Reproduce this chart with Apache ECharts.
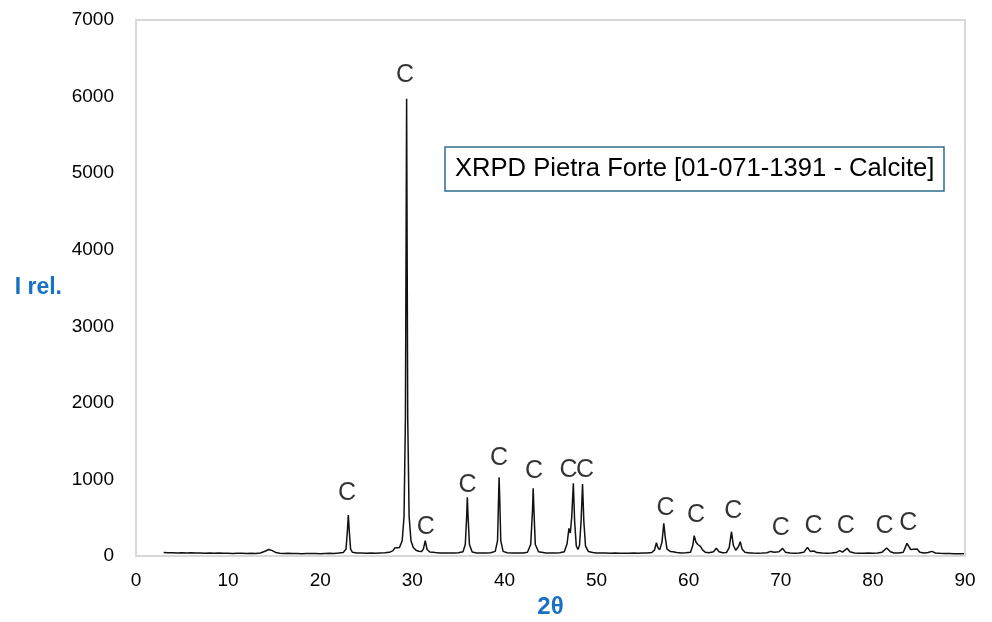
<!DOCTYPE html>
<html>
<head>
<meta charset="utf-8">
<script src="https://cdn.jsdelivr.net/npm/echarts@6/dist/echarts.min.js"></script>
<style>
  html, body { margin: 0; padding: 0; background: #fff; }
  #chart { width: 992px; height: 622px; }
</style>
</head>
<body>
<div id="chart"></div>
<script>
// pattern (2θ, counts)
const twoTheta = [
  3.0, 3.5, 4.0, 4.5, 5.0, 5.5, 6.0, 6.5, 7.0, 7.5,
  8.0, 8.5, 9.0, 9.5, 10.0, 10.5, 11.0, 11.5, 12.0, 12.5,
  13.0, 13.5, 14.0, 14.4, 14.8, 15.2, 15.6, 16.0, 16.5, 17.0,
  17.5, 18.0, 18.5, 19.0, 19.5, 20.0, 20.5, 21.0, 21.5, 22.0,
  22.5, 22.8, 22.95, 23.05, 23.15, 23.3, 23.5, 24.0, 24.5, 25.0,
  25.5, 26.0, 26.5, 27.0, 27.5, 27.9, 28.1, 28.3, 28.6, 28.9,
  29.1, 29.25, 29.38, 29.5, 29.65, 29.85, 30.1, 30.4, 30.7, 31.0,
  31.2, 31.4, 31.6, 31.9, 32.5, 33.0, 33.5, 34.0, 34.5, 35.0,
  35.5, 35.75, 35.9, 35.97, 36.05, 36.2, 36.5, 37.0, 37.5, 38.0,
  38.5, 39.0, 39.25, 39.35, 39.42, 39.5, 39.6, 39.85, 40.3, 41.0,
  41.5, 42.0, 42.5, 42.85, 43.05, 43.12, 43.2, 43.35, 43.7, 44.5,
  45.0, 45.5, 46.0, 46.5, 46.8, 47.0, 47.15, 47.3, 47.48, 47.62,
  47.8, 47.98, 48.15, 48.32, 48.48, 48.62, 48.8, 49.1, 49.6, 50.0,
  50.5, 51.0, 51.5, 52.0, 52.5, 53.0, 53.5, 54.0, 54.5, 55.0,
  55.5, 56.0, 56.3, 56.5, 56.65, 56.85, 57.1, 57.3, 57.45, 57.65,
  58.0, 58.3, 58.7, 59.2, 59.7, 60.2, 60.45, 60.6, 60.8, 61.0,
  61.3, 61.5, 61.8, 62.2, 62.7, 63.0, 63.3, 63.7, 64.1, 64.4,
  64.65, 64.85, 65.1, 65.4, 65.6, 65.8, 66.1, 66.6, 67.0, 67.5,
  68.0, 68.5, 68.9, 69.1, 69.3, 69.8, 70.2, 70.5, 71.0, 71.5,
  72.0, 72.5, 72.9, 73.2, 73.6, 73.9, 74.5, 75.0, 75.5, 76.0,
  76.4, 76.7, 77.2, 77.5, 78.0, 78.5, 79.0, 79.5, 80.0, 80.5,
  81.0, 81.5, 81.9, 82.3, 82.8, 83.3, 83.7, 84.1, 84.3, 84.8,
  85.1, 85.6, 86.0, 86.4, 86.8, 87.3, 87.8, 88.3, 88.8, 89.3,
  89.9
];
const intensity = [
  45, 42, 44, 40, 43, 39, 41, 38, 40, 37,
  39, 36, 38, 35, 37, 34, 36, 35, 33, 36,
  34, 40, 62, 85, 70, 45, 36, 33, 35, 32,
  34, 31, 33, 32, 34, 31, 33, 35, 34, 38,
  45, 90, 330, 535, 330, 90, 48, 40, 38, 36,
  38, 37, 40, 42, 48, 70, 105, 80, 110, 200,
  520, 1800, 5970, 1800, 520, 200, 110, 75, 62, 58,
  90, 200, 85, 52, 45, 40, 38, 40, 38, 42,
  55, 150, 520, 766, 520, 150, 52, 40, 38, 39,
  42, 60, 200, 700, 1027, 700, 200, 60, 42, 40,
  38, 40, 48, 150, 600, 884, 600, 150, 55, 40,
  38, 39, 42, 55, 160, 360, 300, 500, 949, 450,
  130, 85, 140, 450, 940, 450, 130, 60, 45, 40,
  38, 40, 36, 38, 35, 37, 36, 38, 36, 39,
  40, 45, 80, 174, 110, 80, 180, 427, 250, 90,
  60, 55, 45, 40, 42, 50, 140, 265, 180, 150,
  122, 80, 50, 42, 55, 100, 55, 42, 45, 110,
  317, 140, 75, 120, 187, 90, 50, 40, 38, 36,
  38, 42, 60, 78, 50, 55, 100, 50, 38, 36,
  38, 50, 113, 60, 65, 45, 38, 36, 38, 45,
  70, 50, 100, 55, 38, 36, 35, 38, 36, 38,
  50, 104, 55, 40, 38, 50, 165, 85, 65, 90,
  50, 38, 45, 60, 40, 35, 33, 32, 30, 31,
  30
];

// "C" (calcite) peak tags, anchor points in data units
const tagX = [22.9, 29.2, 31.45, 36.0, 39.4, 43.2, 46.95, 48.75, 57.5, 60.8, 64.85, 70.0, 73.55, 77.05, 81.25, 83.85];
const tagY = [820, 6280, 375, 925, 1275, 1115, 1125, 1125, 625, 535, 590, 360, 385, 385, 385, 435];

const chart = echarts.init(document.getElementById('chart'));

const option = {
  animation: false,
  title: {
    text: 'XRPD Pietra Forte [01-071-1391 - Calcite]',
    left: 445,
    top: 147,
    padding: [9, 10],
    borderColor: '#2f6f8f',
    borderWidth: 1.5,
    textStyle: { fontFamily: 'Liberation Sans', fontSize: 25.6, fontWeight: 'normal', color: '#000', lineHeight: 26 }
  },
  grid: {
    left: 136, right: 27, top: 20, bottom: 66,
    outerBoundsMode: 'none',
    show: true, borderColor: '#d9d9d9', borderWidth: 2
  },
  xAxis: {
    type: 'value',
    min: 0, max: 90, interval: 10,
    name: '2θ',
    nameLocation: 'middle',
    nameGap: 38,
    nameTextStyle: { fontFamily: 'Liberation Sans', fontSize: 24, fontWeight: 'bold', color: '#1a70c4' },
    axisLine: { show: false },
    axisTick: { show: false },
    splitLine: { show: false },
    axisLabel: { margin: 15, fontFamily: 'Liberation Sans', fontSize: 19, color: '#000' }
  },
  yAxis: {
    type: 'value',
    min: 0, max: 7000, interval: 1000,
    name: 'I rel.',
    nameLocation: 'middle',
    nameRotate: 0,
    nameGap: 74,
    nameTextStyle: { fontFamily: 'Liberation Sans', fontSize: 23, fontWeight: 'bold', color: '#1a70c4' },
    axisLine: { show: false },
    axisTick: { show: false },
    splitLine: { show: false },
    axisLabel: { margin: 22, fontFamily: 'Liberation Sans', fontSize: 19, color: '#000', formatter: (v) => String(v) }
  },
  series: [
    {
      type: 'line',
      data: twoTheta.map((x, i) => [x, intensity[i]]),
      showSymbol: false,
      lineStyle: { color: '#111', width: 1.5 },
      z: 3
    },
    {
      type: 'scatter',
      data: tagX.map((x, i) => [x, tagY[i]]),
      symbolSize: 1,
      itemStyle: { color: 'transparent' },
      label: {
        show: true,
        position: 'inside',
        formatter: 'C',
        fontFamily: 'Liberation Sans',
        fontSize: 25,
        color: '#000'
      },
      z: 4
    }
  ]
};

chart.setOption(option);
</script>
</body>
</html>
